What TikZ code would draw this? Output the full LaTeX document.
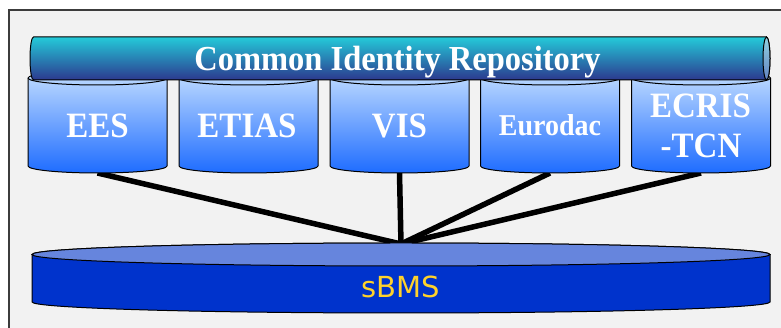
\documentclass[tikz,border=0pt]{standalone}
\usepackage{fontspec}
\usepackage{graphicx}
\setmainfont{Liberation Serif}
\newfontfamily\sansfnt{DejaVu Sans}
\usetikzlibrary{calc}
\newcommand{\talltext}[1]{\scalebox{1}[1.08]{#1}}
\definecolor{framefill}{HTML}{F2F2F2}
\definecolor{frameline}{HTML}{3C3C3C}
\definecolor{dbtop}{HTML}{C2DDFF}
\definecolor{dbbot}{HTML}{1E6CFF}
\definecolor{bartop}{HTML}{24CAD9}
\definecolor{barbot}{HTML}{2C388E}
\definecolor{endtop}{HTML}{92D2E2}
\definecolor{endbot}{HTML}{6282C0}
\definecolor{sbtop}{HTML}{6685DD}
\definecolor{sbside}{HTML}{0033CC}
\definecolor{sbtext}{HTML}{FFD22B}
\tikzset{
  framebox/.style={fill=framefill, draw=frameline, line width=1.5pt},
  dbhold/.style={minimum width=139pt, minimum height=95pt, inner sep=0pt, outer sep=0pt, draw=none},
  conn/.style={line width=5.5pt, line cap=butt, draw=black},
  dbbody/.style={draw=black, line width=1pt, top color=dbtop, bottom color=dbbot},
  dbline/.style={draw=black, line width=1pt},
  barbody/.style={draw=black, line width=1pt, top color=bartop, bottom color=barbot},
  barend/.style={draw=black, line width=1pt, top color=endtop, bottom color=endbot},
  sbsidestyle/.style={draw=black, line width=1pt, fill=sbside},
  sbtopstyle/.style={draw=black, line width=1pt, fill=sbtop},
  titlelbl/.style={text=white, font=\fontsize{32.5}{36}\selectfont\bfseries, inner sep=0pt, anchor=base},
  dblbl/.style={text=white, font=\fontsize{33}{36}\selectfont\bfseries, inner sep=0pt, anchor=base},
  dblblsmall/.style={text=white, font=\fontsize{28}{32}\selectfont\bfseries, inner sep=0pt, anchor=base},
  sbmslbl/.style={text=sbtext, font=\sansfnt\fontsize{29}{32}\selectfont, inner sep=0pt, anchor=base}
}
\begin{document}
\begin{tikzpicture}[x=1pt,y=1pt]
\useasboundingbox (0,0) rectangle (781,328);
\clip (0,0) rectangle (781,328);
\fill[white] (0,0) rectangle (781,328);
\draw[framebox] (9,-20) rectangle (800,318);

% cylinder placeholders
\foreach \nm/\xx in {ees/97.5, etias/248.5, vis/399.5, eurodac/550, ecris/701}
  \node[dbhold] (\nm) at (\xx,202.5) {};

\coordinate (hub) at (401,84);

% connectors
\draw[conn] (ees.south) -- (hub);
\draw[conn] (vis.south) -- (hub);
\draw[conn] (eurodac.south) -- (hub);
\draw[conn] (ecris.south) -- (hub);

% database cylinders
\foreach \nm in {ees,etias,vis,eurodac,ecris}{
  \draw[dbbody] (\nm.north west) -- ($(\nm.south west)+(0,7)$)
     arc[start angle=180,end angle=360,x radius=69.5pt,y radius=7pt]
     -- (\nm.north east)
     arc[start angle=0,end angle=180,x radius=69.5pt,y radius=7pt] -- cycle;
  \draw[dbline] (\nm.north west) arc[start angle=180,end angle=360,x radius=69.5pt,y radius=7pt];
}

% common identity repository bar
\draw[barbody] (33.5,291) arc[start angle=90,end angle=270,x radius=3.5pt,y radius=21.5pt]
   -- (766.5,248) arc[start angle=-90,end angle=90,x radius=3.5pt,y radius=21.5pt] -- cycle;
\draw[barend] (766.5,269.5) ellipse[x radius=3.5pt,y radius=21.5pt];

% sBMS disk
\draw[sbsidestyle] (32,73.5) -- (32,26)
   arc[start angle=180,end angle=360,x radius=369pt,y radius=11pt]
   -- (770,73.5) arc[start angle=0,end angle=180,x radius=369pt,y radius=11.5pt] -- cycle;
\draw[sbtopstyle] (401,73.5) ellipse[x radius=369pt,y radius=11.5pt];

% labels
\node[titlelbl] (cir) at (397.5,257) {\talltext{Common Identity Repository}};
\node[dblbl] (eeslbl) at (97.5,190.5) {\talltext{EES}};
\node[dblbl] (etiaslbl) at (247,190.5) {\talltext{ETIAS}};
\node[dblbl] (vislbl) at (399.5,190.5) {\talltext{VIS}};
\node[dblblsmall] (eurodaclbl) at (550,192) {\talltext{Eurodac}};
\node[dblbl] (ecrislbl) at (700.5,210) {\talltext{ECRIS}};
\node[dblbl] (tcnlbl) at (701,170.7) {\talltext{-TCN}};
\node[sbmslbl] (sbms) at (401,30) {sBMS};
\end{tikzpicture}
\end{document}
